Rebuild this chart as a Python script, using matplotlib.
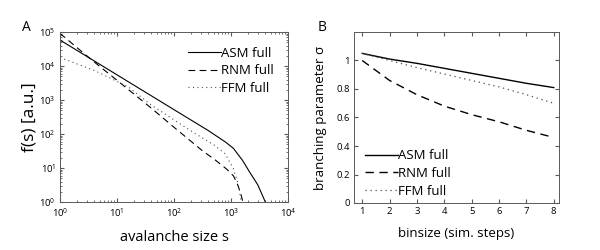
import matplotlib
matplotlib.use("Agg")
import matplotlib.pyplot as plt

plt.rcParams['font.family'] = ['Open Sans', 'DejaVu Sans']

# panel A: avalanche size distributions
asm_s = [1, 10, 100, 400, 800, 1100, 1600, 2100, 2950, 4000]
asm_f = [5.8e4, 5.5e3, 5.2e2, 126, 58, 38, 16.6, 7.8, 3.2, 1.0]
rnm_s = [1, 3.8, 10, 40, 100, 316, 525, 850, 1100, 1260, 1450, 1620]
rnm_f = [9.1e4, 1.4e4, 3.8e3, 575, 158, 32, 17.4, 9.1, 5.9, 3.8, 2.0, 1.0]
ffm_s = [1, 4, 16, 40, 158, 316, 500, 794, 1096, 1350, 1510]
ffm_f = [1.78e4, 7.4e3, 2.4e3, 710, 158, 76, 48, 26, 9.8, 3.2, 1.0]

# panel B: branching parameter vs binsize
binsize = [1, 2, 3, 4, 5, 6, 7, 8]
asm_sigma = [1.05, 1.01, 0.98, 0.945, 0.91, 0.875, 0.84, 0.81]
rnm_sigma = [1.0, 0.86, 0.76, 0.68, 0.62, 0.57, 0.51, 0.46]
ffm_sigma = [1.05, 1.0, 0.95, 0.905, 0.86, 0.815, 0.76, 0.70]

labels = ['ASM full', 'RNM full', 'FFM full']

fig = plt.figure(figsize=(6, 2.5), dpi=100)
axA = fig.add_axes([0.1, 0.192, 0.38, 0.68])
axB = fig.add_axes([0.59, 0.188, 0.342, 0.684])

frame = '0.35'
for ax in (axA, axB):
    for sp in ax.spines.values():
        sp.set_color(frame)
        sp.set_linewidth(0.7)
    ax.tick_params(which='both', direction='in', top=True, right=True,
                   color=frame, labelsize=6.8, pad=3)
    ax.tick_params(which='major', length=3)
    ax.tick_params(which='minor', length=1.5)

axA.loglog(asm_s, asm_f, '-', color='k', lw=0.8, label=labels[0])
axA.loglog(rnm_s, rnm_f, color='k', lw=0.8, dashes=(6, 4), label=labels[1])
axA.loglog(ffm_s, ffm_f, color='0.3', lw=0.8, dashes=(1, 3), label=labels[2])
axA.set_xlim(1, 1e4)
axA.set_ylim(1, 1e5)
axA.set_xlabel('avalanche size s', fontsize=10.5, labelpad=8)
axA.set_ylabel('f(s) [a.u.]', fontsize=12.5)
axA.yaxis.set_label_coords(-0.1, 0.5)
axA.legend(loc='upper right', frameon=False, fontsize=9.5, handlelength=2.5,
           handletextpad=0.0, labelspacing=0.35, borderaxespad=0.7)

axB.plot(binsize, asm_sigma, '-', color='k', lw=1.0, label=labels[0])
axB.plot(binsize, rnm_sigma, color='k', lw=1.0, dashes=(6, 4), label=labels[1])
axB.plot(binsize, ffm_sigma, color='0.3', lw=0.9, dashes=(1, 3), label=labels[2])
axB.set_xlim(0.7, 8.2)
axB.set_ylim(0, 1.2)
axB.set_xticks(binsize)
axB.set_yticks([0, 0.2, 0.4, 0.6, 0.8, 1.0])
axB.set_yticklabels(['0', '0.2', '0.4', '0.6', '0.8', '1'])
axB.set_xlabel('binsize (sim. steps)', fontsize=9.5, labelpad=8)
axB.set_ylabel('branching parameter σ', fontsize=9.5)
axB.yaxis.set_label_coords(-0.13, 0.5)
axB.legend(loc='lower left', bbox_to_anchor=(0.03, 0.0), frameon=False,
           fontsize=9.5, handlelength=2.5, handletextpad=0.0,
           labelspacing=0.35, borderaxespad=0.0)

fig.text(0.037, 0.875, 'A', fontsize=10)
fig.text(0.53, 0.875, 'B', fontsize=10)

fig.savefig('out.png', dpi=100, facecolor='white')
